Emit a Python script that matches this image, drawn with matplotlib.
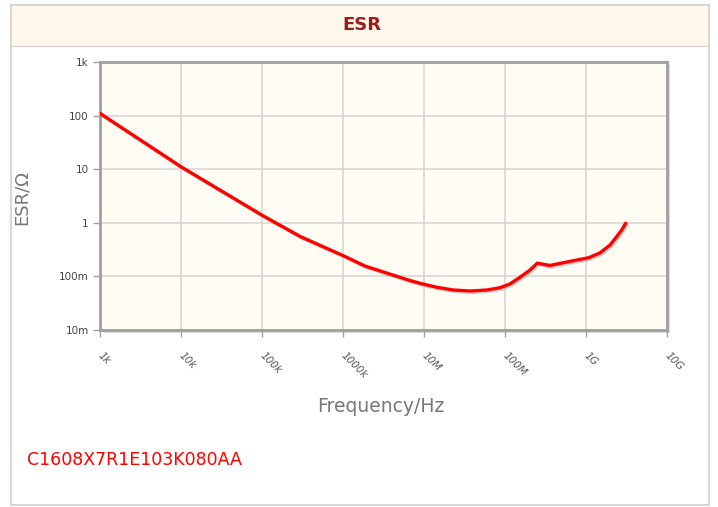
import numpy as np
import matplotlib
matplotlib.use("Agg")
import matplotlib.pyplot as plt
import matplotlib.patheffects as pe
from matplotlib.patches import Rectangle

# ESR curve (frequency in Hz, ESR in ohm)
freq_hz = [1.0e3, 1.0e4, 1.03e5, 3.0e5, 1.03e6, 1.87e6,
           3.62e6, 6.4e6, 8.93e6, 1.44e7, 2.30e7, 3.70e7, 5.94e7, 8.67e7,
           1.15e8, 1.53e8, 2.04e8, 2.51e8, 2.97e8, 3.59e8, 4.78e8, 6.97e8,
           1.07e9, 1.49e9, 1.98e9, 2.39e9, 2.76e9, 3.09e9]
esr_ohm = [110, 11.1, 1.35, 0.55, 0.240, 0.156,
           0.113, 0.0857, 0.0743, 0.0627, 0.0557, 0.0534, 0.0557, 0.0615,
           0.0722, 0.0962, 0.1316, 0.177, 0.168, 0.160, 0.175, 0.196,
           0.222, 0.275, 0.385, 0.551, 0.734, 0.98]

x_ticks = [1e3, 1e4, 1e5, 1e6, 1e7, 1e8, 1e9, 1e10]
x_labels = ["1k", "10k", "100k", "1000k", "10M", "100M", "1G", "10G"]
y_ticks = [1e-2, 1e-1, 1, 10, 100, 1e3]
y_labels = ["10m", "100m", "1", "10", "100", "1k"]

part_number = "C1608X7R1E103K080AA"
title = "ESR"

W, H = 718, 507
fig = plt.figure(figsize=(W / 100, H / 100), dpi=100)
fig.patch.set_facecolor("white")

def fx(px):
    return px / W

def fy(py):
    return 1 - py / H

# outer frame and header band
fig.patches.append(Rectangle((fx(11), fy(505)), fx(709) - fx(11), fy(5) - fy(505),
                             transform=fig.transFigure, facecolor="white",
                             edgecolor="#cfcfcf", linewidth=1.2, zorder=-3))
fig.patches.append(Rectangle((fx(12), fy(46)), fx(708) - fx(12), fy(6) - fy(46),
                             transform=fig.transFigure, facecolor="#fdf8ea",
                             edgecolor="none", zorder=-2))
fig.lines.append(plt.Line2D([fx(12), fx(708)], [fy(46), fy(46)],
                            transform=fig.transFigure, color="#d8d8d8", lw=1))
fig.text(fx(362), fy(25), title, ha="center", va="center", fontsize=13,
         fontweight="bold", color="#9b1c1c")

# plot area
left, right, top, bottom = 100, 667, 62, 330
ax = fig.add_axes([fx(left), fy(bottom), fx(right) - fx(left), fy(top) - fy(bottom)])

# shadow behind the plot frame
fig.patches.append(Rectangle((fx(left + 3), fy(bottom + 3)), fx(right) - fx(left),
                             fy(top) - fy(bottom), transform=fig.transFigure,
                             facecolor="#dadada", edgecolor="none", zorder=-1))

ax.set_facecolor("#fffcf4")
ax.set_xscale("log")
ax.set_yscale("log")
ax.set_xlim(1e3, 1e10)
ax.set_ylim(1e-2, 1e3)

ax.plot(freq_hz, esr_ohm, color="#ff0000", lw=2.4, solid_capstyle="round",
        solid_joinstyle="round",
        path_effects=[pe.SimpleLineShadow(offset=(1.2, -1.2), shadow_color="#888888", alpha=0.35),
                      pe.Normal()], zorder=3)

ax.set_xticks(x_ticks)
ax.set_xticklabels(x_labels, rotation=-45, ha="left", va="center",
                   rotation_mode="anchor", fontsize=7.5, color="#555555",
                   fontstyle="italic")
ax.set_yticks(y_ticks)
ax.set_yticklabels(y_labels, fontsize=7.5, color="#444444")
ax.minorticks_off()
ax.tick_params(axis="both", length=5, width=1, color="#a0a0a0")
ax.tick_params(axis="x", pad=12)
ax.tick_params(axis="y", pad=3)

ax.grid(True, color="#d4d4d4", lw=1.1)
ax.set_axisbelow(True)
for s in ax.spines.values():
    s.set_color("#a0a0a0")
    s.set_linewidth(2)

fig.text(fx(22), fy(198), "ESR/\u03a9", rotation=90, ha="center", va="center",
         fontsize=13, color="#777777")
fig.text(fx(381), fy(407), "Frequency/Hz", ha="center", va="center",
         fontsize=13.5, color="#777777")

fig.text(fx(27), fy(460), part_number, ha="left", va="center", fontsize=12.5,
         color="#ff0000")

fig.savefig("out.png", dpi=100)
